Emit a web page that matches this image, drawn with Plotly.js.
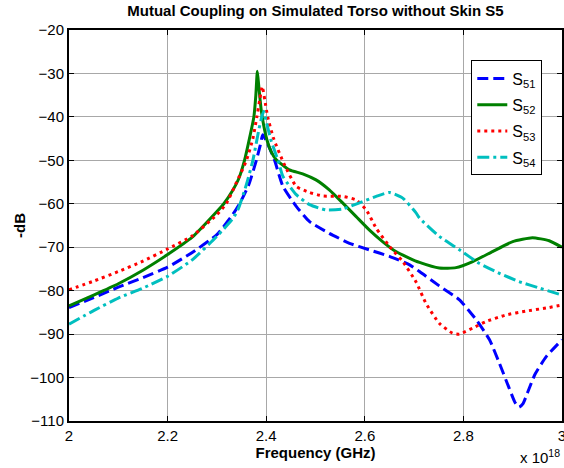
<!DOCTYPE html>
<html>
<head>
<meta charset="utf-8">
<script src="https://cdn.plot.ly/plotly-3.0.1.min.js"></script>
<style>html,body{margin:0;padding:0;background:#fff;}#chart{width:564px;height:468px;}</style>
</head>
<body>
<div id="chart"></div>
<script>
// Frequency (x 10^18) and -dB values
var s51x = [2.0,2.05,2.1,2.15,2.2,2.25,2.3,2.332,2.346,2.365,2.38,2.388,2.393,2.4,2.408,2.417,2.434,2.461,2.488,2.528,2.569,2.609,2.65,2.69,2.711,2.751,2.792,2.826,2.853,2.873,2.893,2.905,2.913,2.921,2.93,2.945,2.968,3.0];
var s51y = [-83.9,-81.6,-79.2,-77,-74.6,-71.2,-67.1,-62.5,-60,-55.5,-50,-46.5,-44.1,-45.5,-47.5,-50,-56,-60.6,-64.1,-66.8,-69.1,-70.6,-72.1,-74,-75.6,-78.9,-82.1,-86.7,-91.3,-96.7,-102.5,-105.8,-106.8,-106,-103.5,-99.3,-95.2,-91.3];

var s52x = [2.0,2.05,2.1,2.15,2.2,2.25,2.3,2.314,2.33,2.344,2.356,2.366,2.375,2.379,2.382,2.385,2.39,2.395,2.402,2.41,2.42,2.447,2.474,2.501,2.528,2.555,2.582,2.609,2.636,2.663,2.69,2.711,2.751,2.785,2.819,2.859,2.9,2.94,2.974,3.0];
var s52y = [-83.5,-81,-78.4,-75.3,-71.7,-67.7,-61.8,-60,-57.3,-54.3,-50,-45,-40,-35,-29.5,-33,-38.5,-42,-45.5,-48,-49.8,-52.2,-53.1,-54.5,-56.8,-59.8,-62.9,-66,-68.7,-71,-72.5,-73.5,-74.8,-74.7,-73.3,-71,-68.7,-67.8,-68.5,-70];

var s53x = [2.0,2.05,2.1,2.15,2.2,2.25,2.3,2.319,2.34,2.36,2.373,2.381,2.387,2.392,2.397,2.403,2.415,2.437,2.461,2.488,2.515,2.555,2.582,2.603,2.623,2.65,2.677,2.704,2.724,2.751,2.778,2.792,2.819,2.846,2.886,2.927,2.968,3.0];
var s53y = [-79.8,-77.8,-75.6,-73.2,-70.4,-67.4,-62.5,-60,-55,-50,-45,-40,-36,-33,-36,-40,-45,-51,-56,-57.4,-58.2,-58.3,-59.1,-61.4,-65.6,-69.8,-73.3,-78,-82.9,-87.5,-89.8,-90,-88.6,-87.1,-85.6,-84.7,-84,-83.3];

var s54x = [2.0,2.05,2.1,2.15,2.2,2.25,2.3,2.333,2.344,2.36,2.373,2.385,2.391,2.395,2.40,2.41,2.424,2.434,2.461,2.488,2.521,2.555,2.589,2.623,2.65,2.677,2.704,2.711,2.751,2.792,2.832,2.873,2.913,2.954,3.0];
var s54y = [-87.7,-84.6,-81.7,-79.4,-76.7,-72.9,-67.5,-63.3,-61,-55.5,-50,-43,-40,-38.7,-41,-45.5,-50,-53.7,-57.9,-60.2,-61.4,-61.2,-59.8,-58.3,-57.4,-58.7,-62.1,-63.3,-67.5,-70.6,-73.7,-76,-77.9,-79.4,-81];

var xTickVals = [2, 2.2, 2.4, 2.6, 2.8, 3];
var xTickText = ['2', '2.2', '2.4', '2.6', '2.8', '3'];
var yTickVals = [-110, -100, -90, -80, -70, -60, -50, -40, -30, -20];
var seriesNames = ['S<sub>51</sub>', 'S<sub>52</sub>', 'S<sub>53</sub>', 'S<sub>54</sub>'];

var FONT = 'Liberation Sans, Arial, Helvetica, sans-serif';
var SM = 0.5;

var traces = [
  {x: s51x, y: s51y, name: seriesNames[0], legendgroup: 'a', mode: 'lines', line: {color: '#0000ff', width: 3, dash: '11px,5px', shape: 'spline', smoothing: SM}},
  {x: s52x, y: s52y, name: seriesNames[1], legendgroup: 'b', mode: 'lines', line: {color: '#008000', width: 3, dash: 'solid', shape: 'spline', smoothing: SM}},
  {x: s53x, y: s53y, name: seriesNames[2], legendgroup: 'c', mode: 'lines', line: {color: '#ff0000', width: 3, dash: '3px,4px', shape: 'spline', smoothing: SM}},
  {x: s54x, y: s54y, name: seriesNames[3], legendgroup: 'd', mode: 'lines', line: {color: '#00bfbf', width: 3, dash: '12px,4px,3px,4px', shape: 'spline', smoothing: SM}}
];

var axisCommon = {
  showline: true, linecolor: '#000', linewidth: 2, mirror: 'allticks',
  ticks: 'inside', ticklen: 5, tickcolor: '#000', tickwidth: 1,
  showgrid: true, gridcolor: '#a8a8a8', gridwidth: 1, zeroline: false,
  ticklabeloverflow: 'allow',
  tickfont: {family: FONT, size: 15, color: '#000'}
};

var layout = {
  width: 564, height: 468,
  margin: {l: 69, r: 2, t: 30, b: 47},
  paper_bgcolor: '#fff', plot_bgcolor: '#fff',
  title: {text: '<b>Mutual Coupling on Simulated Torso without Skin S5</b>', font: {family: FONT, size: 15, color: '#000'}, xref: 'paper', x: 0.5, xanchor: 'center', y: 0.988, yanchor: 'top'},
  xaxis: Object.assign({}, axisCommon, {
    range: [2, 3], tickvals: xTickVals, ticktext: xTickText,
    title: {text: '<b>Frequency (GHz)</b>', font: {family: FONT, size: 15, color: '#000'}, standoff: 2}
  }),
  yaxis: Object.assign({}, axisCommon, {
    range: [-110, -20], tickvals: yTickVals,
    title: {text: '<b>-dB</b>', font: {family: FONT, size: 15, color: '#000'}, standoff: 1}
  }),
  legend: {
    x: 0.816, y: 0.922, xanchor: 'left', yanchor: 'top',
    bgcolor: '#fff', bordercolor: '#000', borderwidth: 1,
    tracegroupgap: 2.5,
    font: {family: FONT, size: 16, color: '#000'}
  },
  annotations: [{
    text: 'x 10<sup>18</sup>', xref: 'paper', yref: 'paper', x: 1.0, y: -0.092,
    xanchor: 'right', yanchor: 'middle', showarrow: false,
    font: {family: FONT, size: 15, color: '#000'}
  }],
  showlegend: true
};

Plotly.newPlot('chart', traces, layout, {displayModeBar: false, staticPlot: true});
</script>
</body>
</html>
